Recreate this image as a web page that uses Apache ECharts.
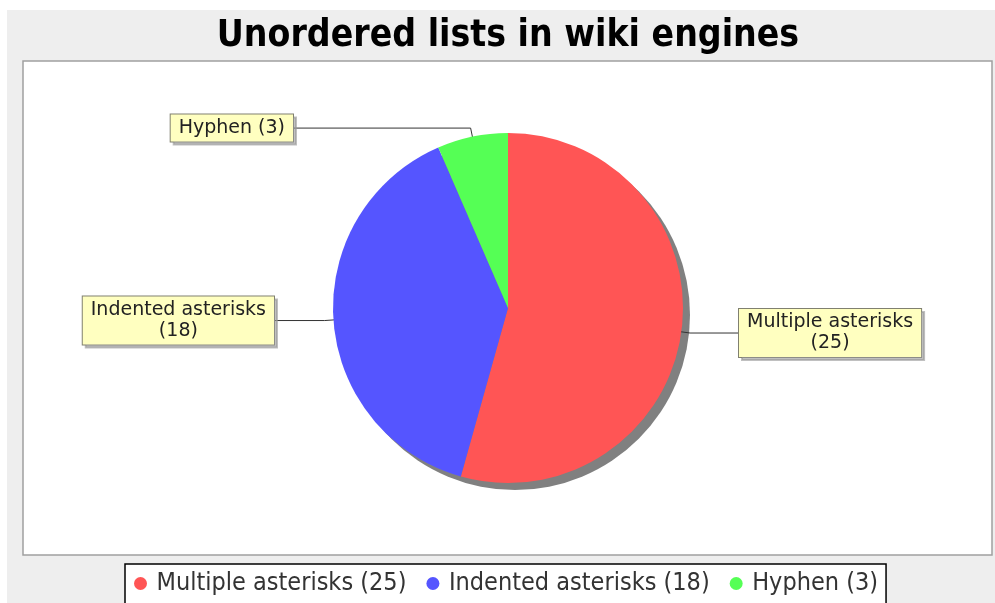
<!DOCTYPE html>
<html><head><meta charset="utf-8">
<script src="https://cdn.jsdelivr.net/npm/echarts/dist/echarts.min.js"></script>
<style>html,body{margin:0;padding:0;background:#fff;}#c{width:995px;height:603px;}</style>
</head><body><div id="c"></div>
<script>
// ---- data ----
const categories = ['Multiple asterisks', 'Indented asterisks', 'Hyphen'];
const values = [25, 18, 3];
const colors = ['#ff5555', '#5555ff', '#55ff55'];
const chartTitle = 'Unordered lists in wiki engines';

// ---- layout ----
const CX = 508, CY = 308, R = 175;
const SHADOW = 7;
const labelEdge = [738, 275, 294];
const total = values.reduce((a, b) => a + b, 0);
const midAngles = [];
let acc = 0;
values.forEach(v => { midAngles.push((acc + v / 2) / total * 2 * Math.PI); acc += v; });
function pt(i, f) {
  const a = midAngles[i];
  return [CX + Math.sin(a) * R * f, CY - Math.cos(a) * R * f];
}
const titleFont = '"DejaVu Sans Condensed", "DejaVu Sans"';
const titleSize = 37;
const ctx = document.createElement('canvas').getContext('2d');
ctx.font = 'bold ' + titleSize + 'px ' + titleFont;
const titleW = ctx.measureText(chartTitle).width;

const chart = echarts.init(document.getElementById('c'));
chart.setOption({
  animation: false,
  color: colors,
  title: {
    text: chartTitle, left: 508 - titleW / 2 - 5, top: 13,
    textStyle: { fontFamily: titleFont, fontWeight: 'bold', fontSize: titleSize, color: '#000' }
  },
  graphic: [
    { type: 'rect', silent: true, z: -10, shape: { x: 7, y: 10, width: 988, height: 593 }, style: { fill: '#eeeeee' } },
    { type: 'rect', silent: true, z: -9, shape: { x: 23, y: 61, width: 969, height: 494 }, style: { fill: '#ffffff', stroke: '#a0a0a0', lineWidth: 1.5 } }
  ],
  legend: {
    data: categories, left: 125, top: 564, orient: 'horizontal',
    icon: 'circle', itemWidth: 22, itemHeight: 13, itemGap: 20,
    padding: [7, 8, 14, 9], backgroundColor: '#fff', borderColor: '#000', borderWidth: 1.5, borderRadius: 0,
    selectedMode: false,
    formatter: name => name + ' (' + values[categories.indexOf(name)] + ')',
    textStyle: { fontFamily: titleFont, fontSize: 25, color: '#333' }
  },
  series: [
    {
      type: 'pie', name: 'shadow', silent: true, z: 1,
      center: [CX + SHADOW, CY + SHADOW], radius: R,
      data: [{ value: total, name: 'shadow' }],
      itemStyle: { color: '#808080' },
      label: { show: false }, labelLine: { show: false },
      emphasis: { disabled: true }
    },
    {
      type: 'pie', name: 'lists', z: 2,
      center: [CX, CY], radius: R, startAngle: 90, clockwise: true,
      avoidLabelOverlap: false,
      data: categories.map((c, i) => ({ name: c, value: values[i], itemStyle: { color: colors[i] } })),
      itemStyle: { borderWidth: 0 },
      emphasis: { disabled: true },
      label: {
        show: true, position: 'outside',
        formatter: p => p.name.length > 12 ? p.name + '\n(' + p.value + ')' : p.name + ' (' + p.value + ')',
        fontFamily: 'DejaVu Sans', fontSize: 19, lineHeight: 21, color: '#222',
        backgroundColor: '#ffffc0', borderColor: '#808070', borderWidth: 1, padding: [3, 8],
        shadowColor: 'rgba(150,150,150,0.6)', shadowOffsetX: 3, shadowOffsetY: 3, shadowBlur: 0
      },
      labelLine: { show: true, length: 10, length2: 10, lineStyle: { color: '#333', width: 1 } },
      labelLayout: params => {
        const i = params.dataIndex;
        const inner = pt(i, 0.9), elbow = pt(i, 1.05);
        const right = Math.sin(midAngles[i]) > 0;
        const w = params.labelRect.width;
        const edge = labelEdge[i];
        return {
          x: right ? edge + w / 2 : edge - w / 2,
          y: elbow[1], align: 'center', verticalAlign: 'middle',
          labelLinePoints: [inner, elbow, [edge, elbow[1]]]
        };
      }
    }
  ]
});
</script></body></html>
